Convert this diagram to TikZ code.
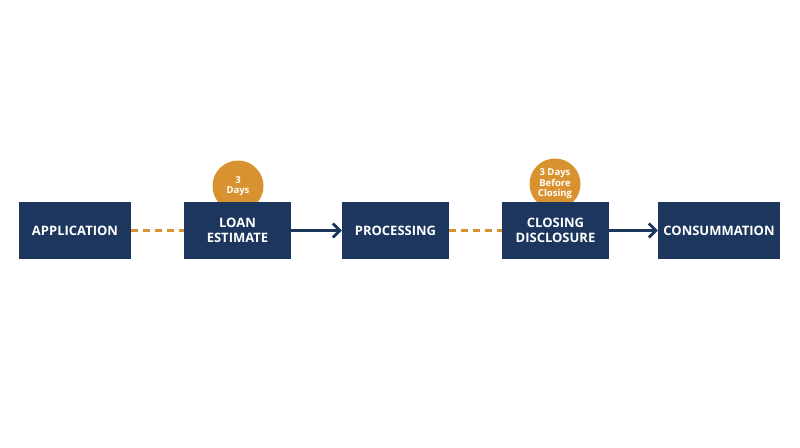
\documentclass[tikz,border=0pt]{standalone}
\usepackage{fontspec}
\setmainfont{Open Sans}
\usepackage{tikz}
\usetikzlibrary{positioning, arrows.meta}
\definecolor{navy}{HTML}{1C365E}
\definecolor{gold}{HTML}{D99230}
\tikzset{
    stage/.style = {rectangle, fill = navy, text = white, font = \bfseries\fontsize{13}{15.5}\selectfont, align = center, minimum height = 57pt, inner sep = 0pt},
    badge/.style = {circle, fill = gold, text = white, font = \bfseries\fontsize{9.5}{10.5}\selectfont, align = center, minimum size = 51pt, inner sep = 0pt},
    wait/.style = {gold, line width = 2.2pt, dash pattern = on 7pt off 5pt},
    advance/.style = {-{Straight Barb[length=7pt, width=14pt]}, navy, line width = 2.8pt}
}
\begin{document}
\begin{tikzpicture}[x=1pt, y=-1pt]
    \useasboundingbox (0,0) rectangle (800,447);
    \node [badge] (b1) at (238,186) {3\\Days};
    \node [badge] (b2) at (555,184) {3 Days\\Before\\Closing};
    \node [stage, minimum width = 112pt] (app) at (75,230.5) {APPLICATION};
    \node [stage, minimum width = 107pt] (le) at (237.5,230.5) {LOAN\\ESTIMATE};
    \node [stage, minimum width = 107pt] (proc) at (395.5,230.5) {PROCESSING};
    \node [stage, minimum width = 107pt] (cd) at (555.5,230.5) {CLOSING\\DISCLOSURE};
    \node [stage, minimum width = 122pt] (cons) at (719,230.5) {CONSUMMATION};
    \draw [wait] (app) -- (le);
    \draw [advance] (le) -- (proc);
    \draw [wait] (proc) -- (cd);
    \draw [advance] (cd) -- (cons);
\end{tikzpicture}
\end{document}
